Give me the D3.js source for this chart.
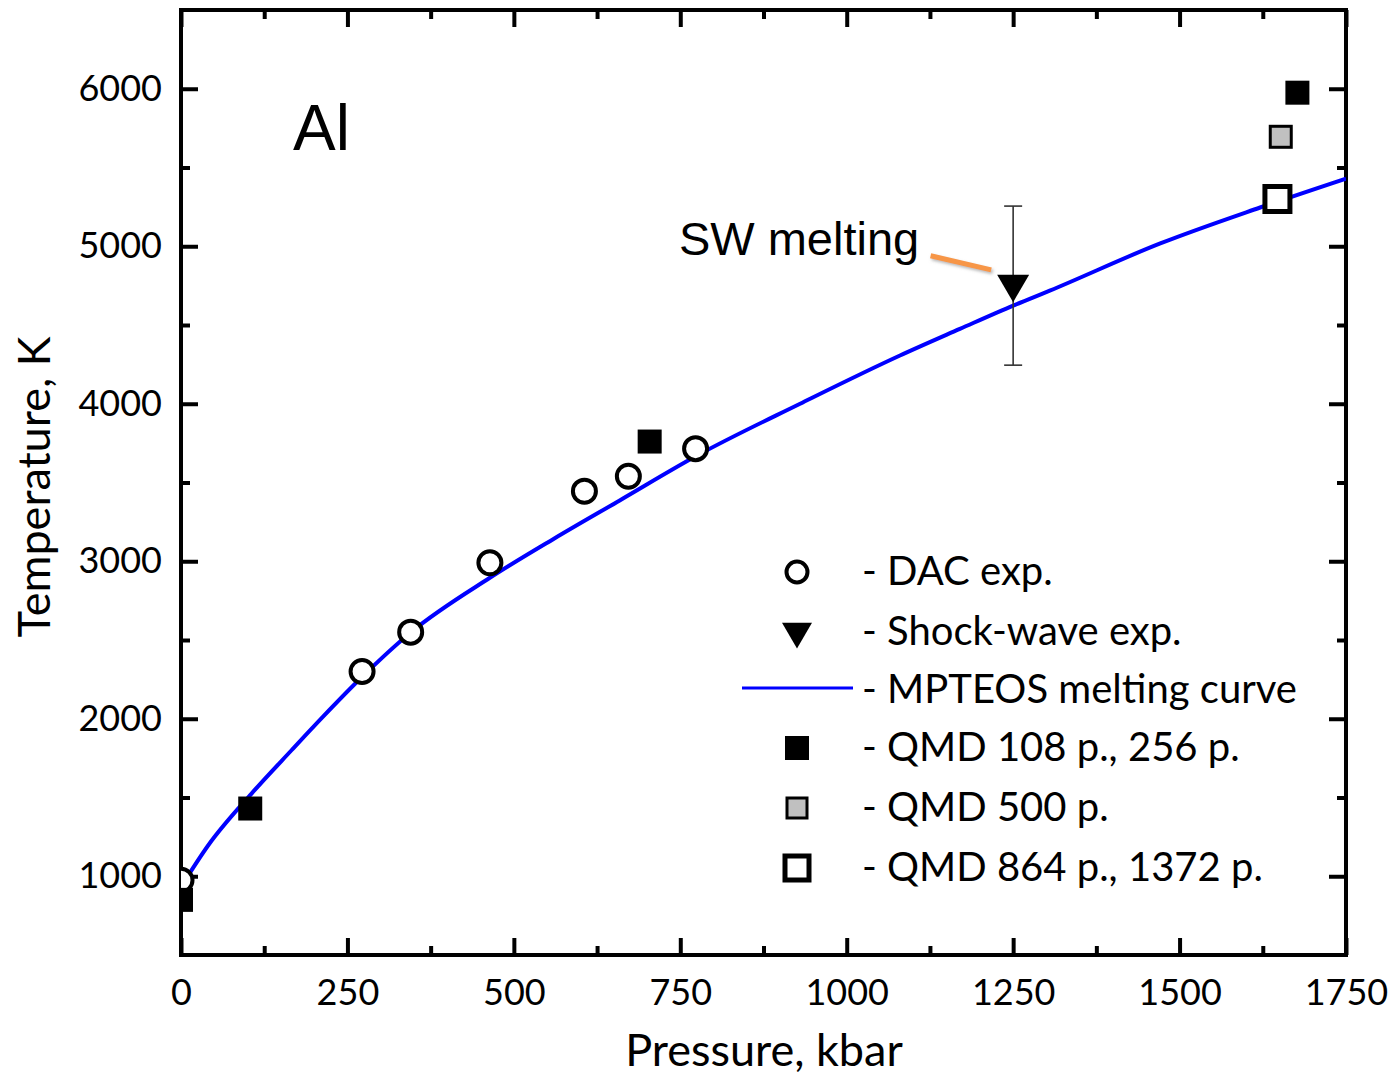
<!DOCTYPE html>
<html>
<head>
<meta charset="utf-8">
<script src="https://cdn.jsdelivr.net/npm/d3@7"></script>
<style>
  body { margin: 0; background: #fff; }
  svg { display: block; }
  text { font-family: Lato, "Noto Sans", sans-serif; fill: #000; }
</style>
</head>
<body>
<svg id="chart" width="1393" height="1075"></svg>
<script>
// MPTEOS melting curve (kbar, K)
const curveP = [0, 41, 106, 166, 213, 271, 345, 464, 559, 659, 780, 930, 1080, 1170, 1250, 1305, 1471, 1621, 1750];
const curveT = [933, 1197, 1525, 1800, 2012, 2262, 2548, 2895, 3140, 3386, 3682, 4000, 4306, 4475, 4623, 4718, 5018, 5246, 5430];

// DAC experiments
const dacP = [0, 272, 345, 464, 606, 672, 773];
const dacT = [975, 2300, 2550, 2990, 3445, 3540, 3715];

// shock-wave experiment with error bar
const swP = [1250];
const swT = [4750];
const swErr = [505];

// QMD results
const qmd256P = [0, 104, 704, 1677];
const qmd256T = [850, 1430, 3760, 5975];
const qmd500P = [1652];
const qmd500T = [5695];
const qmd1372P = [1647];
const qmd1372T = [5300];

const xTicks = [0, 250, 500, 750, 1000, 1250, 1500, 1750];
const yTicks = [1000, 2000, 3000, 4000, 5000, 6000];

const legendLabels = ["- DAC exp.", "- Shock-wave exp.", "- MPTEOS melting curve",
  "- QMD 108 p., 256 p.", "- QMD 500 p.", "- QMD 864 p., 1372 p."];

const width = 1393, height = 1075;
const margin = { top: 10, right: 47, bottom: 120, left: 181 };

const svg = d3.select("#chart");
const x = d3.scaleLinear().domain([0, 1750]).range([margin.left, width - margin.right]);
const y = d3.scaleLinear().domain([500, 6500]).range([height - margin.bottom, margin.top]);

const minorX = d3.range(125, 1750, 250);
const minorY = d3.range(500, 6500, 1000).filter(v => v > 500);

const defs = svg.append("defs");
defs.append("clipPath").attr("id", "plot")
  .append("rect")
  .attr("x", margin.left).attr("y", margin.top)
  .attr("width", width - margin.left - margin.right)
  .attr("height", height - margin.top - margin.bottom);
const sh = defs.append("filter").attr("id", "shadow")
  .attr("x", "-20%").attr("y", "-50%").attr("width", "140%").attr("height", "200%");
sh.append("feDropShadow").attr("dx", 1.5).attr("dy", 2).attr("stdDeviation", 1.5)
  .attr("flood-color", "#888").attr("flood-opacity", 0.6);

// axes
function styleAxis(g) {
  g.select(".domain").remove();
  g.selectAll("line").attr("stroke", "#000").attr("stroke-width", 4);
  g.selectAll("text").style("font-size", "36px").attr("fill", "#000");
}
const bottomY = height - margin.bottom, rightX = width - margin.right;

svg.append("g").attr("transform", `translate(0,${bottomY})`)
  .call(d3.axisBottom(x).tickValues(xTicks).tickSize(-17).tickPadding(24).tickFormat(d3.format("d")))
  .call(styleAxis);
svg.append("g").attr("transform", `translate(0,${bottomY})`)
  .call(d3.axisBottom(x).tickValues(minorX).tickSize(-9).tickFormat(""))
  .call(styleAxis);
svg.append("g").attr("transform", `translate(0,${margin.top})`)
  .call(d3.axisTop(x).tickValues(xTicks).tickSize(-17).tickFormat(""))
  .call(styleAxis);
svg.append("g").attr("transform", `translate(0,${margin.top})`)
  .call(d3.axisTop(x).tickValues(minorX).tickSize(-9).tickFormat(""))
  .call(styleAxis);

svg.append("g").attr("transform", `translate(${margin.left},0)`)
  .call(d3.axisLeft(y).tickValues(yTicks).tickSize(-17).tickPadding(19).tickFormat(d3.format("d")))
  .call(styleAxis);
svg.append("g").attr("transform", `translate(${margin.left},0)`)
  .call(d3.axisLeft(y).tickValues(minorY).tickSize(-9).tickFormat(""))
  .call(styleAxis);
svg.append("g").attr("transform", `translate(${rightX},0)`)
  .call(d3.axisRight(y).tickValues(yTicks).tickSize(-17).tickFormat(""))
  .call(styleAxis);
svg.append("g").attr("transform", `translate(${rightX},0)`)
  .call(d3.axisRight(y).tickValues(minorY).tickSize(-9).tickFormat(""))
  .call(styleAxis);

svg.append("rect")
  .attr("x", margin.left).attr("y", margin.top)
  .attr("width", rightX - margin.left).attr("height", bottomY - margin.top)
  .attr("fill", "none").attr("stroke", "#000").attr("stroke-width", 4);

// axis titles
svg.append("text")
  .attr("x", 764).attr("y", 1066)
  .attr("text-anchor", "middle").style("font-size", "45px")
  .text("Pressure, kbar");
svg.append("text")
  .attr("transform", `translate(50,487) rotate(-90)`)
  .attr("text-anchor", "middle").style("font-size", "45px")
  .text("Temperature, K");

const plot = svg.append("g").attr("clip-path", "url(#plot)");

// melting curve
const curve = curveP.map((p, i) => [p, curveT[i]]);
plot.append("path")
  .datum(curve)
  .attr("fill", "none").attr("stroke", "#0000ff").attr("stroke-width", 4)
  .attr("d", d3.line().x(d => x(d[0])).y(d => y(d[1])).curve(d3.curveMonotoneX));

// symbols
const tri = s => `M${-s},${-s * 0.62}L${s},${-s * 0.62}L0,${s * 1.1}Z`;

function circle(g, cx, cy, r) {
  g.append("circle").attr("cx", cx).attr("cy", cy).attr("r", r)
    .attr("fill", "#fff").attr("stroke", "#000").attr("stroke-width", 4);
}
function square(g, cx, cy, s, fill, sw) {
  g.append("rect").attr("x", cx - s / 2).attr("y", cy - s / 2)
    .attr("width", s).attr("height", s)
    .attr("fill", fill).attr("stroke", "#000").attr("stroke-width", sw);
}

// error bar
swP.forEach((p, i) => {
  const cx = x(p);
  const y0 = y(swT[i] - swErr[i]), y1 = y(swT[i] + swErr[i]);
  const e = plot.append("g").attr("stroke", "#333").attr("stroke-width", 1.6);
  e.append("line").attr("x1", cx).attr("x2", cx).attr("y1", y0).attr("y2", y1);
  e.append("line").attr("x1", cx - 9).attr("x2", cx + 9).attr("y1", y0).attr("y2", y0);
  e.append("line").attr("x1", cx - 9).attr("x2", cx + 9).attr("y1", y1).attr("y2", y1);
});

dacP.forEach((p, i) => circle(plot, x(p), y(dacT[i]), 11.5));
qmd256P.forEach((p, i) => square(plot, x(p), y(qmd256T[i]), 24, "#000", 0));
qmd500P.forEach((p, i) => square(plot, x(p), y(qmd500T[i]), 21, "#c0c0c0", 3));
qmd1372P.forEach((p, i) => square(plot, x(p), y(qmd1372T[i]), 25, "#fff", 5));
swP.forEach((p, i) => {
  plot.append("path").attr("d", tri(16))
    .attr("transform", `translate(${x(p)},${y(swT[i]) - 1})`)
    .attr("fill", "#000");
});

// annotation
svg.append("line")
  .attr("x1", x(1126)).attr("y1", y(4940))
  .attr("x2", x(1217)).attr("y2", y(4850))
  .attr("stroke", "#f79646").attr("stroke-width", 5)
  .attr("filter", "url(#shadow)");
svg.append("text")
  .attr("x", x(748)).attr("y", y(4947))
  .style("font-family", "'Liberation Sans', Arial, sans-serif")
  .style("font-size", "47px")
  .text("SW melting");
svg.append("text")
  .attr("x", 293).attr("y", 150)
  .style("font-family", "'Liberation Sans', Arial, sans-serif")
  .style("font-size", "64px")
  .text("Al");

// legend
const legRowY = [572, 632, 690, 748, 808, 868];
const legSymX = 797, legTextX = 862;
const leg = svg.append("g");
legendLabels.forEach((t, i) => {
  leg.append("text").attr("x", legTextX).attr("y", legRowY[i] + 13)
    .style("font-size", "40px").text(t);
});
circle(leg, legSymX, legRowY[0], 10.5);
leg.append("path").attr("d", tri(15)).attr("transform", `translate(${legSymX},${legRowY[1]})`).attr("fill", "#000");
leg.append("line").attr("x1", 742).attr("x2", 853).attr("y1", legRowY[2] - 2).attr("y2", legRowY[2] - 2)
  .attr("stroke", "#0000ff").attr("stroke-width", 3);
square(leg, legSymX, legRowY[3], 24, "#000", 0);
square(leg, legSymX, legRowY[4], 20, "#c0c0c0", 3);
square(leg, legSymX, legRowY[5], 24, "#fff", 5);
</script>
</body>
</html>
